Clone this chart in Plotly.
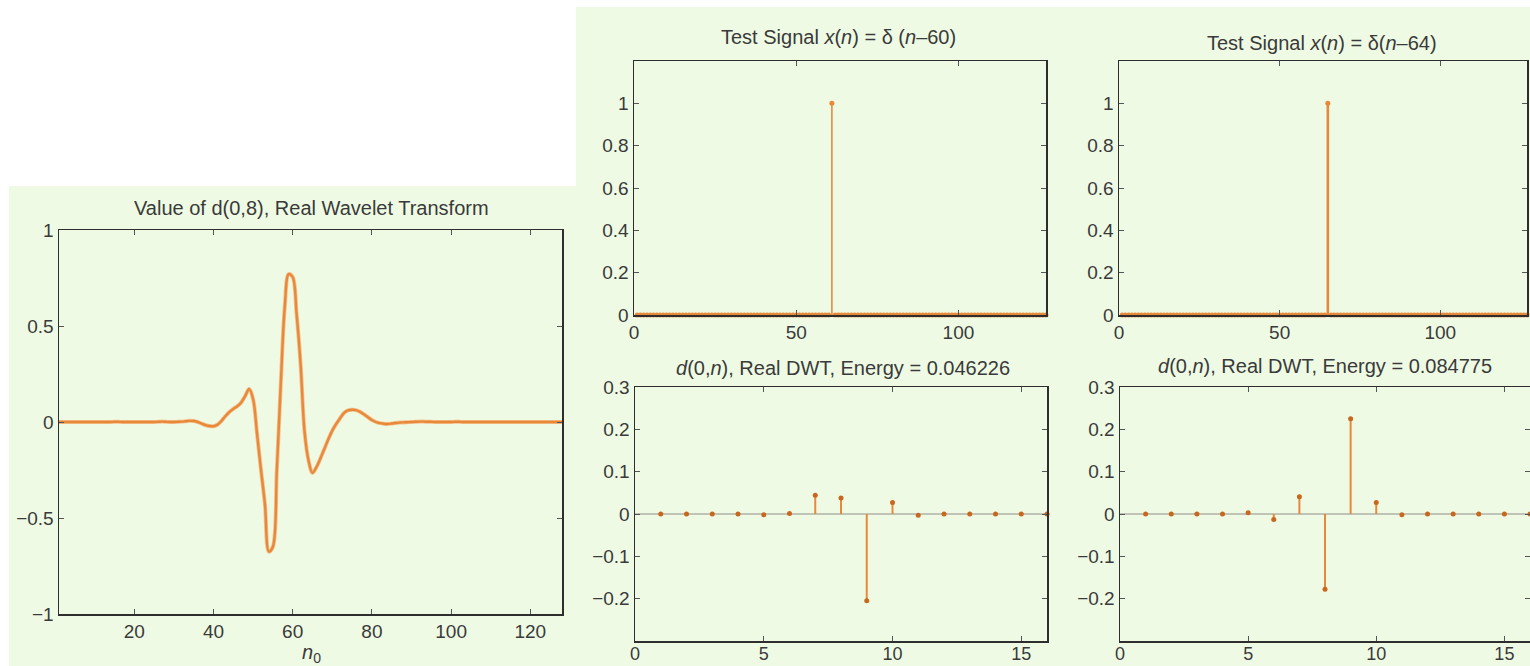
import plotly.graph_objects as go

# ---------------- data ----------------
n_curve = list(range(1, 129))
d08_values = (
    [0, 0, 0, 0, 0, 0, 0, 0, 0, 0]
    + [0, 0, 0, 0, 0.001, 0.001, 0, 0, 0, 0]
    + [0, 0, 0, 0, 0, 0.001, 0.002, 0.001, 0, 0]
    + [0.001, 0.002, 0.004, 0.006, 0.005, 0.0, -0.008, -0.016, -0.021, -0.022]
    + [-0.014, 0.005, 0.03, 0.052, 0.068, 0.082, 0.102, 0.135, 0.172, 0.12]
    + [-0.06, -0.25, -0.43, -0.675, -0.65, -0.25, 0.20, 0.60, 0.77, 0.755]
    + [0.56, 0.30, -0.05, -0.20, -0.265, -0.235, -0.19, -0.14, -0.09, -0.045]
    + [-0.01, 0.02, 0.048, 0.06, 0.064, 0.062, 0.053, 0.04, 0.025, 0.01]
    + [0.0, -0.006, -0.009, -0.01, -0.008, -0.005, -0.003, -0.002, -0.001, 0.0]
    + [0.001, 0.002, 0.002, 0.001, 0.001, 0, 0, 0, 0, 0]
    + [0.001, 0.001, 0, 0, 0, 0, 0, 0, 0, 0]
    + [0, 0, 0, 0, 0, 0, 0, 0, 0, 0]
    + [0, 0, 0, 0, 0, 0, 0, 0]
)

n_signal = list(range(1, 129))
signal_a = [0.0] * 60 + [1.0] + [0.0] * 67   # delta(n-60), 1-based index 61
signal_b = [0.0] * 64 + [1.0] + [0.0] * 63   # delta(n-64), 1-based index 65

n_dwt = list(range(1, 17))
dwt_a = [0.0, 0.0, 0.0, 0.0, -0.002, 0.001, 0.044, 0.038, -0.205, 0.027, -0.003, 0.0, 0.0, 0.0, 0.0, 0.0]
dwt_b = [0.0, 0.0, 0.0, 0.0, 0.003, -0.013, 0.041, -0.178, 0.225, 0.027, -0.002, 0.0, 0.0, 0.0, 0.0, 0.0]

titles = [
    "Value of d(0,8), Real Wavelet Transform",
    "Test Signal <i>x</i>(<i>n</i>) = δ (<i>n</i>–60)",
    "Test Signal <i>x</i>(<i>n</i>) = δ(<i>n</i>–64)",
    "<i>d</i>(0,<i>n</i>), Real DWT, Energy = 0.046226",
    "<i>d</i>(0,<i>n</i>), Real DWT, Energy = 0.084775",
]

# ---------------- styling ----------------
W, H = 1530, 666
GREEN = "#eefae4"
ORANGE = "#e8893a"
DARK_OR = "#c8681e"
TXT = "#3a3a3a"
FONT = "Liberation Sans, Arial, Helvetica, sans-serif"
TICK_SIZE = 19
TITLE_SIZE = 20


def px_x(p):
    return p / W


def px_y(p):
    return 1 - p / H


def stem_xy(xs, ys):
    lx, ly = [], []
    for x, y in zip(xs, ys):
        lx += [x, x, None]
        ly += [0, y, None]
    return lx, ly


fig = go.Figure()

# green panels
fig.add_shape(type="rect", xref="paper", yref="paper", x0=px_x(9), x1=1, y0=0, y1=px_y(186),
              fillcolor=GREEN, line_width=0, layer="below")
fig.add_shape(type="rect", xref="paper", yref="paper", x0=px_x(576), x1=1, y0=0, y1=px_y(7),
              fillcolor=GREEN, line_width=0, layer="below")

# left curve
fig.add_trace(go.Scatter(x=n_curve, y=d08_values, mode="lines", line=dict(color="#f4c08e", width=4, shape="spline"),
                         xaxis="x", yaxis="y", hoverinfo="skip"))
fig.add_trace(go.Scatter(x=n_curve, y=d08_values, mode="lines", line=dict(color=ORANGE, width=2.4, shape="spline"),
                         xaxis="x", yaxis="y"))

# top stems
for sig, ax, w in [(signal_a, ("x2", "y2"), 1.6), (signal_b, ("x3", "y3"), 2.6)]:
    lx, ly = stem_xy(n_signal, sig)
    fig.add_trace(go.Scatter(x=lx, y=ly, mode="lines", line=dict(color=ORANGE, width=w),
                             xaxis=ax[0], yaxis=ax[1], cliponaxis=False))
    fig.add_trace(go.Scatter(x=n_signal, y=sig, mode="markers", marker=dict(color=ORANGE, size=5),
                             xaxis=ax[0], yaxis=ax[1], cliponaxis=False))

# bottom stems
for vals, ax in [(dwt_a, ("x4", "y4")), (dwt_b, ("x5", "y5"))]:
    lx, ly = stem_xy(n_dwt, vals)
    fig.add_trace(go.Scatter(x=lx, y=ly, mode="lines", line=dict(color=ORANGE, width=2),
                             xaxis=ax[0], yaxis=ax[1], cliponaxis=False))
    fig.add_trace(go.Scatter(x=n_dwt, y=vals, mode="markers", marker=dict(color=DARK_OR, size=5),
                             xaxis=ax[0], yaxis=ax[1], cliponaxis=False))


def axis(domain, rng, tickvals, anchor, zeroline=False, size=TICK_SIZE, standoff=0):
    return dict(
        domain=domain, range=rng, tickvals=tickvals, anchor=anchor,
        showgrid=False, zeroline=zeroline, zerolinecolor="#bfc4b6", zerolinewidth=2,
        showline=True, linecolor="#2e2e2e", linewidth=1.5, mirror="allticks",
        ticks="inside", ticklen=5, tickcolor="#555555", tickwidth=1,
        tickfont=dict(family=FONT, size=size, color=TXT), fixedrange=True,
        automargin=False, ticklabelstandoff=standoff,
    )


# domains (pixel based)
L = ([px_x(59), px_x(562)], [px_y(614), px_y(230)])
TM = ([px_x(634), px_x(1046)], [px_y(315), px_y(61)])
TR = ([px_x(1119), px_x(1527)], [px_y(315), px_y(61)])
BM = ([px_x(635), px_x(1047)], [px_y(641), px_y(387)])
BR = ([px_x(1120), 1.0], [px_y(641), px_y(387)])

fig.update_layout(
    width=W, height=H, margin=dict(l=0, r=0, t=0, b=0, pad=0, autoexpand=False),
    paper_bgcolor="white", plot_bgcolor=GREEN, showlegend=False,
    font=dict(family=FONT, color=TXT),
    xaxis=axis(L[0], [1, 128], [20, 40, 60, 80, 100, 120], "y"),
    yaxis=axis(L[1], [-1, 1], [-1, -0.5, 0, 0.5, 1], "x"),
    xaxis2=axis(TM[0], [0, 127], [0, 50, 100], "y2"),
    yaxis2=axis(TM[1], [0, 1.2], [0, 0.2, 0.4, 0.6, 0.8, 1], "x2"),
    xaxis3=axis(TR[0], [0, 127], [0, 50, 100], "y3"),
    yaxis3=axis(TR[1], [0, 1.2], [0, 0.2, 0.4, 0.6, 0.8, 1], "x3"),
    xaxis4=axis(BM[0], [0, 16], [0, 5, 10, 15], "y4", size=18, standoff=-4),
    yaxis4=axis(BM[1], [-0.3, 0.3], [-0.2, -0.1, 0, 0.1, 0.2, 0.3], "x4", zeroline=True),
    xaxis5=axis(BR[0], [0, 16], [0, 5, 10, 15], "y5", size=18, standoff=-4),
    yaxis5=axis(BR[1], [-0.3, 0.3], [-0.2, -0.1, 0, 0.1, 0.2, 0.3], "x5", zeroline=True),
)

title_pos = [(311, 208), (838, 37), (1322, 43), (843, 368), (1325, 366)]
for t, (cx, cy) in zip(titles, title_pos):
    fig.add_annotation(text=t, x=px_x(cx), y=px_y(cy), xref="paper", yref="paper",
                       showarrow=False, xanchor="center", yanchor="middle",
                       font=dict(family=FONT, size=TITLE_SIZE, color=TXT))

fig.add_annotation(text="<i>n</i><sub>0</sub>", x=px_x(311), y=px_y(653), xref="paper", yref="paper",
                   showarrow=False, xanchor="center", yanchor="middle",
                   font=dict(family=FONT, size=TITLE_SIZE, color=TXT))

fig.write_html(
    "out.html",
    config={"displayModeBar": False, "staticPlot": True},
    post_script="document.body.style.margin='0';document.body.style.overflow='hidden';",
)
